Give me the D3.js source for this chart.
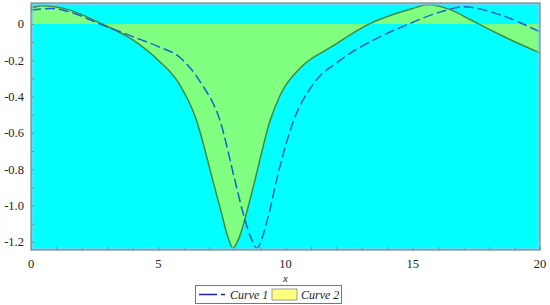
<!DOCTYPE html>
<html>
<head>
<meta charset="utf-8">
<script src="https://cdn.jsdelivr.net/npm/d3@7"></script>
<style>
  body { margin: 0; background: #fff; }
  svg { display: block; }
  text { font-family: "Liberation Serif", "Times New Roman", Times, serif; }
</style>
</head>
<body>
<svg id="chart" width="550" height="305"></svg>
<script>
// Curve 2 (relleno hasta cero)
const curve2X = [0, 0.4, 1.5, 2.7, 4.0, 5.0, 5.8, 6.5, 7.14, 7.48, 7.73, 7.93, 8.2, 8.47, 8.8, 9.4, 9.8, 10.6, 11.8, 13.3, 14.2, 15.0, 15.6, 16.5, 17.3, 18.43, 20]
const curve2Y = [0.085, 0.1, 0.077, 0.005, -0.088, -0.2, -0.325, -0.53, -0.86, -1.04, -1.17, -1.234, -1.17, -1.04, -0.86, -0.53, -0.39, -0.24, -0.127, 0.0, 0.05, 0.085, 0.105, 0.077, 0.02, -0.06, -0.16]

// Curve 1 (discontinua)
const curve1X = [0, 0.8, 1.5, 2.7, 4.0, 5.0, 5.85, 6.7, 7.42, 8.01, 8.33, 8.62, 8.88, 9.1, 9.36, 9.65, 10.3, 11.1, 12.15, 13.7, 14.6, 16.1, 17.0, 18.43, 20]
const curve1Y = [0.077, 0.085, 0.066, 0.0, -0.07, -0.125, -0.185, -0.33, -0.53, -0.86, -1.04, -1.17, -1.234, -1.17, -1.04, -0.86, -0.54, -0.33, -0.2, -0.072, -0.015, 0.066, 0.094, 0.05, -0.044]

const xTicks = [0, 5, 10, 15, 20]
const yTicks = [0, -0.2, -0.4, -0.6, -0.8, -1.0, -1.2]
const yTickLabels = ['0', '-0.2', '-0.4', '-0.6', '-0.8', '-1.0', '-1.2']
const legendNames = ['Curve 1', 'Curve 2']

const svg = d3.select('#chart')
const x = d3.scaleLinear().domain([0, 20]).range([31, 540])
const y = d3.scaleLinear().domain([-1.245, 0.115]).range([250, 3])

/* fondo del area */
svg.append('rect')
    .attr('x', x(0)).attr('y', y(0.115))
    .attr('width', x(20) - x(0)).attr('height', y(-1.245) - y(0.115))
    .attr('fill', '#00ffff')

const c2 = curve2X.map((d, i) => [d, curve2Y[i]])
const c1 = curve1X.map((d, i) => [d, curve1Y[i]])

const area = d3.area()
    .x(d => x(d[0])).y0(y(0)).y1(d => y(d[1]))
    .curve(d3.curveMonotoneX)
const line = d3.line()
    .x(d => x(d[0])).y(d => y(d[1]))
    .curve(d3.curveMonotoneX)

svg.append('path').attr('d', area(c2)).attr('fill', '#80ff80')
svg.append('path').attr('d', line(c2)).attr('fill', 'none')
    .attr('stroke', '#3f8a3f').attr('stroke-width', 1.5)
svg.append('path').attr('d', line(c1)).attr('fill', 'none')
    .attr('stroke', '#1a5fd0').attr('stroke-width', 1.5)
    .attr('stroke-dasharray', '10,4')

/* borde interior claro */
svg.append('rect')
    .attr('x', x(0) + 1.5).attr('y', y(0.115) + 1.5)
    .attr('width', x(20) - x(0) - 3).attr('height', y(-1.245) - y(0.115) - 3)
    .attr('fill', 'none').attr('stroke', '#8fc8ff').attr('stroke-width', 2).attr('opacity', 0.7)

/* ejes */
const xAxis = d3.axisBottom(x).tickValues(d3.range(0, 21, 1)).tickSize(-3).tickFormat('')
svg.append('g').attr('transform', `translate(0,${y(-1.245)})`).call(xAxis)
    .call(g => g.select('.domain').remove())
    .call(g => g.selectAll('line').attr('stroke', '#7a9a7a'))
const yAxis = d3.axisLeft(y).tickValues(d3.range(-12, 2, 1).map(v => v / 10)).tickSize(-3).tickFormat('')
svg.append('g').attr('transform', `translate(${x(0)},0)`).call(yAxis)
    .call(g => g.select('.domain').remove())
    .call(g => g.selectAll('line').attr('stroke', '#7a9a7a'))

svg.append('rect')
    .attr('x', x(0)).attr('y', y(0.115))
    .attr('width', x(20) - x(0)).attr('height', y(-1.245) - y(0.115))
    .attr('fill', 'none').attr('stroke', '#6f8f7f').attr('stroke-width', 1.2)

svg.append('g').selectAll('text').data(xTicks).enter().append('text')
    .attr('x', d => x(d)).attr('y', 268)
    .attr('text-anchor', 'middle').attr('font-size', 12.5).attr('fill', '#222')
    .text(d => d)

svg.append('g').selectAll('text').data(yTicks).enter().append('text')
    .attr('x', 24).attr('y', d => y(d) + 4.5)
    .attr('text-anchor', 'end').attr('font-size', 12.5).attr('fill', '#222')
    .text((d, i) => yTickLabels[i])

svg.append('text').attr('x', x(10)).attr('y', 282)
    .attr('text-anchor', 'middle').attr('font-size', 11).attr('font-style', 'italic')
    .attr('fill', '#222').text('x')

/* leyenda */
const leg = svg.append('g')
leg.append('rect').attr('x', 195.5).attr('y', 285.5).attr('width', 146).attr('height', 18)
    .attr('fill', '#fff').attr('stroke', '#777').attr('stroke-width', 1)
leg.append('line').attr('x1', 199).attr('x2', 226).attr('y1', 294.5).attr('y2', 294.5)
    .attr('stroke', '#2020b0').attr('stroke-width', 1.5).attr('stroke-dasharray', '18,4,4,4')
leg.append('text').attr('x', 230).attr('y', 299).attr('font-size', 12).attr('font-style', 'italic')
    .attr('fill', '#222').text(legendNames[0])
leg.append('rect').attr('x', 272).attr('y', 289).attr('width', 25).attr('height', 11)
    .attr('fill', '#ffff80').attr('stroke', '#888').attr('stroke-width', 0.8)
leg.append('text').attr('x', 301).attr('y', 299).attr('font-size', 12).attr('font-style', 'italic')
    .attr('fill', '#222').text(legendNames[1])
</script>
</body>
</html>
